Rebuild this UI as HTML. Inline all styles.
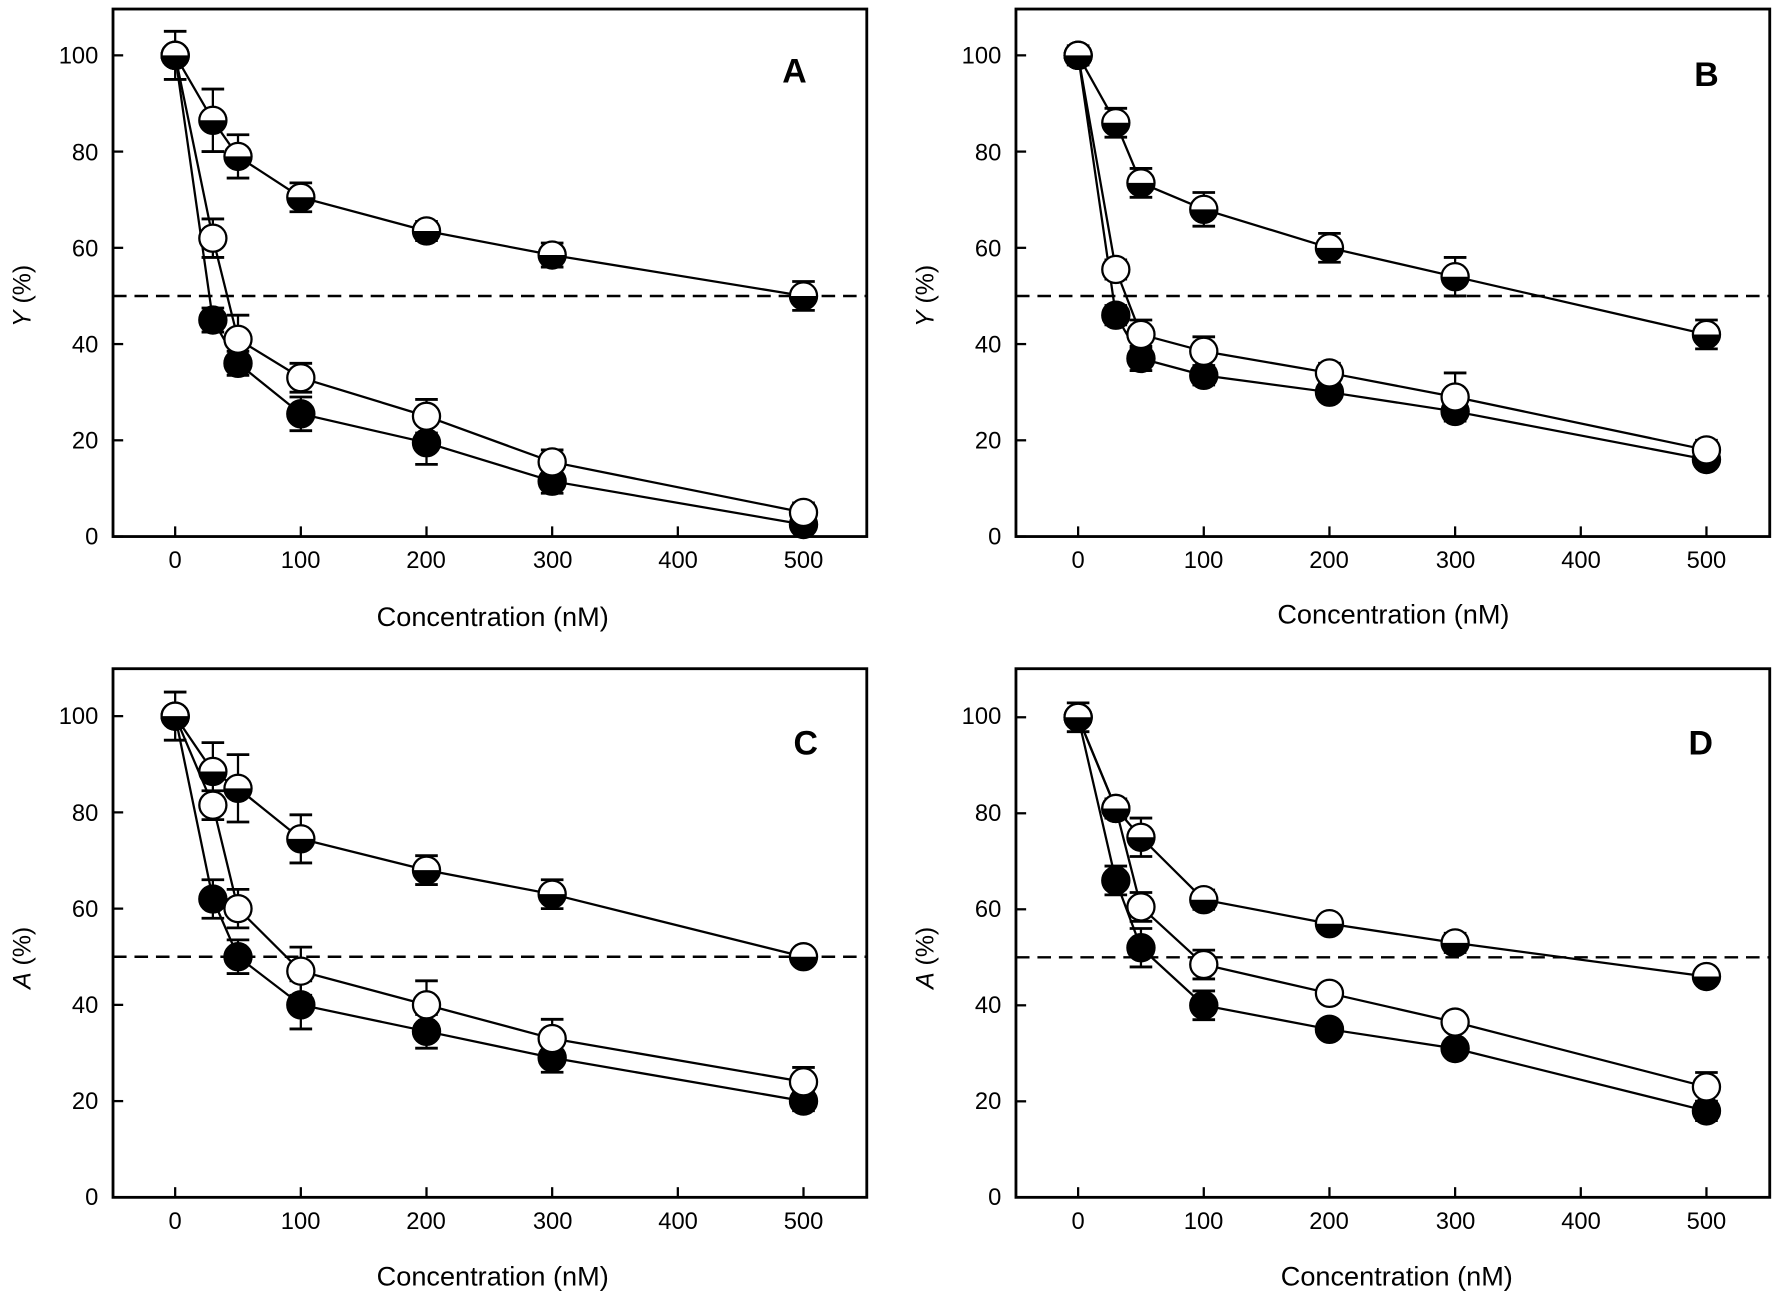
<!DOCTYPE html>
<html><head><meta charset="utf-8"><style>
html,body{margin:0;padding:0;background:#fff}
svg{display:block}
text{font-family:"Liberation Sans",sans-serif;fill:#000}
</style></head><body>
<svg id="s" width="1772" height="1299" viewBox="0 0 1568 1150" preserveAspectRatio="none" xmlns="http://www.w3.org/2000/svg">
<g id="g"></g>
<g font-size="21" text-anchor="end">
<text x="87" y="482">0</text><text x="87" y="397">20</text><text x="87" y="312">40</text><text x="87" y="227">60</text><text x="87" y="142">80</text><text x="87" y="56">100</text>
<text x="886" y="482">0</text><text x="886" y="397">20</text><text x="886" y="312">40</text><text x="886" y="227">60</text><text x="886" y="142">80</text><text x="886" y="56">100</text>
<text x="87" y="1067">0</text><text x="87" y="982">20</text><text x="87" y="897">40</text><text x="87" y="812">60</text><text x="87" y="727">80</text><text x="87" y="641">100</text>
<text x="886" y="1067">0</text><text x="886" y="982">20</text><text x="886" y="897">40</text><text x="886" y="812">60</text><text x="886" y="727">80</text><text x="886" y="641">100</text>
</g>
<g font-size="21" text-anchor="middle">
<text x="155" y="503">0</text><text x="266" y="503">100</text><text x="377" y="503">200</text><text x="489" y="503">300</text><text x="600" y="503">400</text><text x="711" y="503">500</text>
<text x="954" y="503">0</text><text x="1065" y="503">100</text><text x="1176" y="503">200</text><text x="1288" y="503">300</text><text x="1399" y="503">400</text><text x="1510" y="503">500</text>
<text x="155" y="1088">0</text><text x="266" y="1088">100</text><text x="377" y="1088">200</text><text x="489" y="1088">300</text><text x="600" y="1088">400</text><text x="711" y="1088">500</text>
<text x="954" y="1088">0</text><text x="1065" y="1088">100</text><text x="1176" y="1088">200</text><text x="1288" y="1088">300</text><text x="1399" y="1088">400</text><text x="1510" y="1088">500</text>
</g>
<g font-size="24" text-anchor="middle">
<text x="436" y="554">Concentration (nM)</text>
<text x="1233" y="552">Concentration (nM)</text>
<text x="436" y="1138">Concentration (nM)</text>
<text x="1236" y="1138">Concentration (nM)</text>
<text transform="translate(27,262) rotate(-90)" font-size="22"><tspan font-style="italic">Y</tspan> (%)</text>
<text transform="translate(826,262) rotate(-90)" font-size="22"><tspan font-style="italic">Y</tspan> (%)</text>
<text transform="translate(27,848) rotate(-90)" font-size="22"><tspan font-style="italic">A</tspan> (%)</text>
<text transform="translate(826,848) rotate(-90)" font-size="22"><tspan font-style="italic">A</tspan> (%)</text>
</g>
<g font-size="30" font-weight="bold" text-anchor="middle">
<text x="703" y="73">A</text><text x="1510" y="76">B</text><text x="713" y="668">C</text><text x="1505" y="668">D</text>
</g>
</svg>
<script>
const NS="http://www.w3.org/2000/svg",G=document.getElementById('g');
function el(t,a){const e=document.createElementNS(NS,t);for(const k in a)e.setAttribute(k,a[k]);G.appendChild(e);return e;}
const X=[0,30,50,100,200,300,500];
const P=[
 {l:100,r:767,t:8,b:475,x0:155,y100:49,s:[
  {k:'f',y:[100,45,36,25.5,19.5,11.5,2.5],e:[0,2.5,2.5,3.5,4.5,2.5,1]},
  {k:'o',y:[100,62,41,33,25,15.5,5],e:[0,4,5,3,3.5,2.5,2]},
  {k:'h',y:[100,86.5,79,70.5,63.5,58.5,50],e:[5,6.5,4.5,3,2,2.5,3]}]},
 {l:899,r:1566,t:8,b:475,x0:954,y100:49,s:[
  {k:'f',y:[100,46,37,33.5,30,26,16],e:[0,2,2.5,2,1.5,1.5,1]},
  {k:'o',y:[100,55.5,42,38.5,34,29,18],e:[0,2,3,3,2,5,2]},
  {k:'h',y:[100,86,73.5,68,60,54,42],e:[2,3,3,3.5,3,4,3]}]},
 {l:100,r:767,t:592,b:1060,x0:155,y100:634,s:[
  {k:'f',y:[100,62,50,40,34.5,29,20],e:[0,4,3.5,5,3.5,3,2]},
  {k:'o',y:[100,81.5,60,47,40,33,24],e:[0,3,4,5,5,4,3]},
  {k:'h',y:[100,88.5,85,74.5,68,63,50],e:[5,6,7,5,3,3,1.5]}]},
 {l:899,r:1566,t:592,b:1060,x0:954,y100:635,s:[
  {k:'f',y:[100,66,52,40,35,31,18],e:[0,3,4,3,1,1,2]},
  {k:'o',y:[100,81,60.5,48.5,42.5,36.5,23],e:[0,2,3,3,1,1,3]},
  {k:'h',y:[100,81,75,62,57,53,46],e:[3,2,4,2,1.5,2,1]}]}
];
P.forEach(p=>{
 const fx=v=>p.x0+v*1.112, fy=v=>p.b-v*(p.b-p.y100)/100;
 el('rect',{x:p.l,y:p.t,width:p.r-p.l,height:p.b-p.t,fill:'none',stroke:'#000','stroke-width':2.5});
 for(let v=0;v<=500;v+=100)el('line',{x1:fx(v),x2:fx(v),y1:p.b,y2:p.b-9,stroke:'#000','stroke-width':2});
 for(let v=0;v<=100;v+=20)el('line',{x1:p.l,x2:p.l+9,y1:fy(v),y2:fy(v),stroke:'#000','stroke-width':2});
 el('line',{x1:p.l,x2:p.r,y1:fy(50),y2:fy(50),stroke:'#000','stroke-width':2.2,'stroke-dasharray':'12,7'});
 p.s.forEach(s=>{el('polyline',{points:X.map((x,i)=>fx(x)+','+fy(s.y[i])).join(' '),fill:'none',stroke:'#000','stroke-width':2});});
 p.s.forEach(s=>{X.forEach((x,i)=>{const cx=fx(x),cy=fy(s.y[i]),e=s.e[i]*(p.b-p.y100)/100;
  if(e>0){el('line',{x1:cx,x2:cx,y1:cy-e,y2:cy+e,stroke:'#000','stroke-width':2});
   el('line',{x1:cx-10,x2:cx+10,y1:cy-e,y2:cy-e,stroke:'#000','stroke-width':2.5});
   el('line',{x1:cx-10,x2:cx+10,y1:cy+e,y2:cy+e,stroke:'#000','stroke-width':2.5});}});});
 p.s.forEach(s=>{X.forEach((x,i)=>{const cx=fx(x),cy=fy(s.y[i]),r=12;
  if(s.k==='h'){el('circle',{cx:cx,cy:cy,r:r,fill:'#fff',stroke:'#000','stroke-width':2});
   el('path',{d:`M${cx-r} ${cy} A${r} ${r} 0 0 0 ${cx+r} ${cy} Z`,fill:'#000'});}
  else el('circle',{cx:cx,cy:cy,r:r,fill:s.k==='f'?'#000':'#fff',stroke:'#000','stroke-width':2});});});
});
</script>
</body></html>
